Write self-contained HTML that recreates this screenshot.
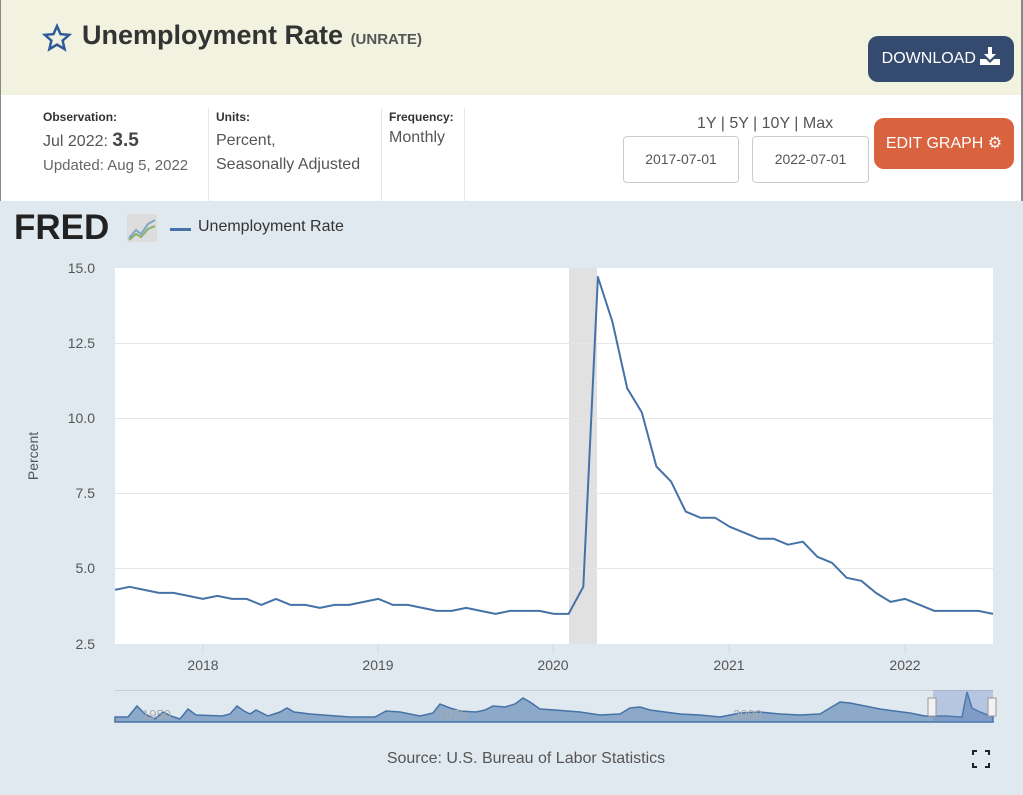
<!DOCTYPE html>
<html><head><meta charset="utf-8"><style>
body{margin:0;width:1023px;height:795px;overflow:hidden;font-family:"Liberation Sans",sans-serif;background:#fff;position:relative}
.top{position:absolute;left:0;top:0;width:1023px;height:95px;background:#f1f2df}
.abs{position:absolute}
.chart{position:absolute;left:0;top:201px;width:1023px;height:594px;background:#e1e9f0}
.lbl{font-size:12px;font-weight:bold;color:#333}
.val{font-size:16px;color:#555}
.btn{position:absolute;border-radius:10px;color:#fff;font-size:16px;text-align:center}
.inp{position:absolute;border:1px solid #ccc;border-radius:4px;background:#fff;font-size:14px;color:#555;text-align:center;line-height:44px}
</style></head><body>
<div class="top"></div>
<div style="position:absolute;left:0;top:0;width:1px;height:795px;background:#888"></div>
<div style="position:absolute;right:0;top:0;width:2px;height:795px;background:#888"></div>
<svg class="abs" style="left:42px;top:23px" width="30" height="30" viewBox="0 0 24 24"><path d="M12 2.5l2.8 6.4 6.9.6-5.2 4.6 1.6 6.8L12 17.3 5.9 20.9l1.6-6.8L2.3 9.5l6.9-.6z" fill="none" stroke="#2e5b97" stroke-width="2"/></svg>
<div class="abs" style="left:82px;top:20px;font-size:27px;font-weight:bold;color:#333">Unemployment Rate <span style="font-size:15px;color:#555">(UNRATE)</span></div>
<div class="btn" style="left:868px;top:36px;width:146px;height:46px;background:#344a6f;line-height:46px">DOWNLOAD <svg width="20" height="18" viewBox="0 0 20 18" style="vertical-align:-2px"><path d="M8 0h4v7h4l-6 6-6-6h4z M0 12h6l4 4 4-4h6v6H0z" fill="#fff"/></svg></div>
<div class="abs lbl" style="left:43px;top:110px">Observation:</div>
<div class="abs val" style="left:43px;top:130px">Jul 2022: <b style="font-size:19px;color:#444">3.5</b></div>
<div class="abs" style="left:43px;top:157px;font-size:15px;color:#666">Updated: Aug 5, 2022</div>
<div class="abs" style="left:208px;top:108px;width:1px;height:93px;background:#e2e8ef"></div>
<div class="abs lbl" style="left:216px;top:110px">Units:</div>
<div class="abs val" style="left:216px;top:129px;line-height:24px">Percent,<br>Seasonally Adjusted</div>
<div class="abs" style="left:381px;top:108px;width:1px;height:93px;background:#e2e8ef"></div>
<div class="abs lbl" style="left:389px;top:110px">Frequency:</div>
<div class="abs val" style="left:389px;top:129px">Monthly</div>
<div class="abs" style="left:464px;top:108px;width:1px;height:93px;background:#e2e8ef"></div>
<div class="abs" style="left:697px;top:115px;font-size:16px;color:#555">1Y | 5Y | 10Y | Max</div>
<div class="inp" style="left:623px;top:136px;width:114px;height:45px">2017-07-01</div>
<div class="inp" style="left:752px;top:136px;width:115px;height:45px">2022-07-01</div>
<div class="btn" style="left:874px;top:118px;width:140px;height:51px;background:#d9623f;line-height:51px">EDIT GRAPH ⚙</div>
<div class="chart"></div>
<div class="abs" style="left:14px;top:208px;font-size:35px;font-weight:900;color:#222;letter-spacing:0px">FRED</div>
<svg class="abs" style="left:127px;top:214px" width="30" height="28"><rect width="30" height="28" fill="#ddd"/><polyline points="2,24 9,16 14,20 21,10 28,6" fill="none" stroke="#7fa7c9" stroke-width="2"/><polyline points="2,26 9,20 14,23 21,15 28,12" fill="none" stroke="#8bb06a" stroke-width="2"/></svg>
<div class="abs" style="left:170px;top:228px;width:21px;height:3px;background:#4572a7"></div>
<div class="abs" style="left:198px;top:218px;font-size:16px;color:#333">Unemployment Rate</div>
<svg class="abs" style="left:0;top:0" width="1023" height="795" id="s">
<rect x="115" y="268" width="878" height="376" fill="#fff"/>
<rect x="569" y="268" width="28" height="376" fill="#e1e1e1"/>
<g stroke="#e6e6e6" stroke-width="1">
<line x1="115" x2="993" y1="343.5" y2="343.5"/><line x1="115" x2="993" y1="418.5" y2="418.5"/><line x1="115" x2="993" y1="493.5" y2="493.5"/><line x1="115" x2="993" y1="568.5" y2="568.5"/></g>
<g font-size="14" fill="#555" text-anchor="end" font-family="Liberation Sans">
<text x="95" y="273">15.0</text><text x="95" y="348">12.5</text><text x="95" y="423">10.0</text><text x="95" y="498">7.5</text><text x="95" y="573">5.0</text><text x="95" y="649">2.5</text></g>
<g font-size="14" fill="#555" text-anchor="middle" font-family="Liberation Sans">
<text x="203" y="670">2018</text><text x="378" y="670">2019</text><text x="553" y="670">2020</text><text x="729" y="670">2021</text><text x="905" y="670">2022</text></g>
<g stroke="#ccd6eb"><line x1="203" x2="203" y1="644" y2="654"/><line x1="378" x2="378" y1="644" y2="654"/><line x1="553" x2="553" y1="644" y2="654"/><line x1="729" x2="729" y1="644" y2="654"/><line x1="905" x2="905" y1="644" y2="654"/></g>
<text x="38" y="456" font-size="14" fill="#555" text-anchor="middle" transform="rotate(-90 38 456)" font-family="Liberation Sans">Percent</text>
<polyline id="ln" fill="none" stroke="#4572a7" stroke-width="2" stroke-linejoin="round"/>
<line x1="115" x2="993" y1="690.5" y2="690.5" stroke="#ccc"/>
<path id="nav" fill="#8ca9c9" stroke="#4572a7" stroke-width="1.5"/>
<rect x="933" y="690" width="60" height="32" fill="#6685c2" opacity="0.35"/>
<g fill="#aaa" font-size="13" font-family="Liberation Sans"><text x="142" y="719">1950</text><text x="438" y="719">1975</text><text x="733" y="719">2000</text></g>
<rect x="928" y="698" width="8" height="18" fill="#f2f2f2" stroke="#999"/>
<rect x="988" y="698" width="8" height="18" fill="#f2f2f2" stroke="#999"/>
<text x="526" y="763" font-size="16" fill="#555" text-anchor="middle" font-family="Liberation Sans">Source: U.S. Bureau of Labor Statistics</text>
<path d="M973 755v-4h4M985 751h4v4M973 763v4h4M989 763v4h-4" fill="none" stroke="#222" stroke-width="2"/>
</svg>
<script>
var d=[4.3,4.4,4.3,4.2,4.2,4.1,
4.0,4.1,4.0,4.0,3.8,4.0,3.8,3.8,3.7,3.8,3.8,3.9,
4.0,3.8,3.8,3.7,3.6,3.6,3.7,3.6,3.5,3.6,3.6,3.6,
3.5,3.5,4.4,14.7,13.2,11.0,10.2,8.4,7.9,6.9,6.7,6.7,
6.4,6.2,6.0,6.0,5.8,5.9,5.4,5.2,4.7,4.6,4.2,3.9,
4.0,3.8,3.6,3.6,3.6,3.6,3.5];
var p=[];for(var i=0;i<d.length;i++){p.push((115+i*878/(d.length-1)).toFixed(1)+","+(644-(d[i]-2.5)*30.08).toFixed(1));}
document.getElementById('ln').setAttribute('points',p.join(' '));
var n=[[115,717],[128,717],[137,706],[145,714],[155,719],[163,712],[171,716],[180,719],[188,709],[196,715],[222,716],[230,714],[237,706],[244,711],[250,714],[256,710],[268,716],[280,712],[287,708],[294,712],[310,714],[350,717],[375,717],[386,711],[400,712],[420,716],[433,713],[440,704],[450,708],[460,711],[476,712],[485,710],[493,706],[505,707],[515,704],[523,698],[530,702],[540,709],[555,710],[580,712],[600,715],[620,714],[630,708],[640,707],[650,710],[680,714],[700,715],[720,717],[740,713],[760,712],[780,714],[800,715],[820,714],[830,708],[840,702],[850,703],[880,709],[910,713],[925,716],[945,716],[962,717],[967,692],[972,708],[980,712],[993,717]];
var s="M115,722";n.forEach(function(q){s+=" L"+q[0]+","+q[1]});s+=" L993,722Z";
document.getElementById('nav').setAttribute('d',s);
</script>
</body></html>
